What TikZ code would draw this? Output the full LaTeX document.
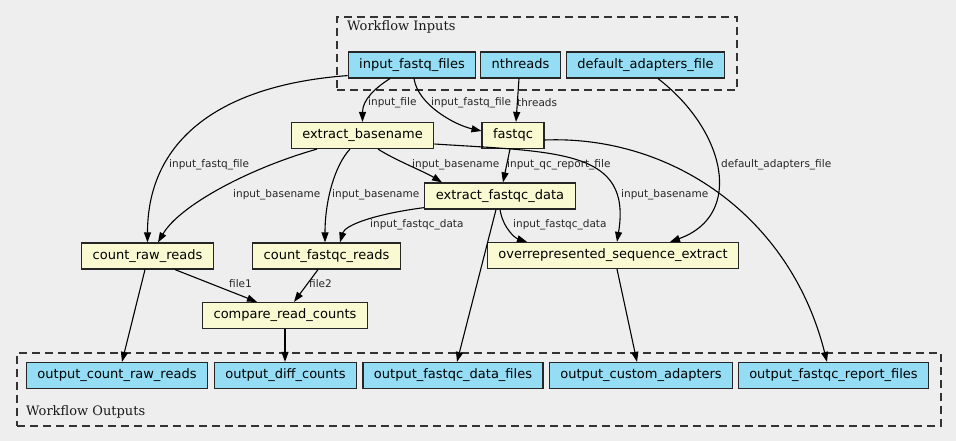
\documentclass[tikz,border=0pt]{standalone}
\usepackage{fontspec}
\setmainfont{DejaVu Serif}
\setsansfont{DejaVu Sans}
\usetikzlibrary{arrows.meta}
\definecolor{bg}{HTML}{EEEEEE}
\definecolor{iofill}{HTML}{94DDF4}
\definecolor{toolfill}{HTML}{FAFAD2}
\begin{document}
\begin{tikzpicture}[x=1pt,y=-1pt,
 box/.style={draw=black!85, line width=1.2pt, rectangle, minimum height=26pt, inner xsep=11pt, inner ysep=0pt, font=\sffamily\fontsize{13}{15}\selectfont, text height=9.5pt, text depth=3pt},
 io/.style={box, fill=iofill},
 tool/.style={box, fill=toolfill},
 lbl/.style={font=\sffamily\fontsize{10.5}{12}\selectfont, inner sep=0pt, anchor=west, text=black!85},
 cl/.style={draw=black!80, line width=1.6pt, dash pattern=on 8pt off 5pt, anchor=north west, inner sep=0pt},
 cltitle/.style={font=\rmfamily\fontsize{13}{15}\selectfont, inner sep=0pt, anchor=west, text=black!90},
 e/.style={draw=black, line width=1.1pt, -{Triangle[length=10pt,width=7pt]}}
]
\fill[bg] (0,0) rectangle (956,441);
\useasboundingbox (0,0) rectangle (956,441);

% clusters
\node[cl, minimum width=400pt, minimum height=73pt] (inputs) at (336,16) {};
\node[cltitle] (tin) at (347,27) {Workflow Inputs};
\node[cl, minimum width=924pt, minimum height=73pt] (outputs) at (16,352) {};
\node[cltitle] (tout) at (26,412) {Workflow Outputs};

% inputs
\node[io] (ifq) at (412,65) {input\_fastq\_files};
\node[io] (nt) at (520.5,65) {nthreads};
\node[io] (daf) at (645.5,65) {default\_adapters\_file};

% tools
\node[tool] (eb) at (362.5,135.5) {extract\_basename};
\node[tool] (fq) at (513,135.5) {fastqc};
\node[tool] (efd) at (500,196) {extract\_fastqc\_data};
\node[tool] (ose) at (613,255.5) {overrepresented\_sequence\_extract};
\node[tool] (crr) at (147.5,256) {count\_raw\_reads};
\node[tool] (cfr) at (326.5,256) {count\_fastqc\_reads};
\node[tool] (crc) at (285,315.5) {compare\_read\_counts};

% outputs
\node[io] (ocrr) at (117,375.5) {output\_count\_raw\_reads};
\node[io] (odc) at (285.5,375.5) {output\_diff\_counts};
\node[io] (ofdf) at (453,375.5) {output\_fastqc\_data\_files};
\node[io] (oca) at (641,375.5) {output\_custom\_adapters};
\node[io] (ofrf) at (833.5,375.5) {output\_fastqc\_report\_files};

% edges
\draw[e] ([xshift=-22pt]ifq.south) .. controls (375,88) and (362.5,100) .. (eb.north);
\draw[e] ([xshift=2pt]ifq.south) .. controls (418,105) and (455,125) .. ([yshift=4.5pt]fq.west);
\draw[e] ([xshift=-1.5pt]nt.south) -- ([xshift=3pt]fq.north);
\draw[e] ([yshift=3pt]ifq.south west) .. controls (220,85) and (147.5,140) .. (crr.north);
\draw[e] ([xshift=12.5pt]daf.south) .. controls (725,130) and (745,215) .. ([xshift=57pt]ose.north);
\draw[e] ([yshift=-4.5pt]fq.east) .. controls (670,135) and (790,215) .. ([xshift=-6.5pt]ofrf.north);
\draw[e] ([xshift=-3pt]fq.south) -- ([xshift=3pt]efd.north);
\draw[e] ([xshift=15.5pt]eb.south) .. controls (395,160) and (425,172) .. ([xshift=-58pt]efd.north);
\draw[e] ([yshift=-8.5pt]eb.east) .. controls (560,152) and (632,150) .. ([xshift=4pt]ose.north);
\draw[e] ([xshift=-45.5pt]eb.south) .. controls (250,168) and (180,205) .. ([xshift=10.5pt]crr.north);
\draw[e] ([xshift=-12.5pt]eb.south) .. controls (335,165) and (325,200) .. ([xshift=-1.5pt]cfr.north);
\draw[e] ([yshift=2pt]efd.south west) .. controls (375,214) and (345,225) .. ([xshift=13.5pt]cfr.north);
\draw[e] (efd.south) .. controls (503,228) and (515,238) .. ([xshift=-86pt]ose.north);
\draw[e] ([xshift=-4pt]efd.south) -- ([xshift=4pt]ofdf.north);
\draw[e] ([xshift=4pt]ose.south) -- ([xshift=-4pt]oca.north);
\draw[e] ([xshift=-2.5pt]crr.south) -- ([xshift=5pt]ocrr.north);
\draw[e] ([xshift=27.5pt]crr.south) -- ([xshift=-28pt]crc.north);
\draw[e] ([xshift=-8.5pt]cfr.south) -- ([xshift=9pt]crc.north);
\draw[e] (crc.south) -- (crc.south |- odc.north);

% edge labels
\node[lbl] (l1) at (368,103) {input\_file};
\node[lbl] (l2) at (431,103) {input\_fastq\_file};
\node[lbl] (l3) at (517,103) {threads};
\node[lbl] (l4) at (169,165) {input\_fastq\_file};
\node[lbl] (l5) at (721,165) {default\_adapters\_file};
\node[lbl] (l6) at (412,165) {input\_basename};
\node[lbl] (l7) at (507,165) {input\_qc\_report\_file};
\node[lbl] (l8) at (621,195) {input\_basename};
\node[lbl] (l9) at (233,195) {input\_basename};
\node[lbl] (l10) at (332,195) {input\_basename};
\node[lbl] (l11) at (370,225) {input\_fastqc\_data};
\node[lbl] (l12) at (513,225) {input\_fastqc\_data};
\node[lbl] (l13) at (229,284) {file1};
\node[lbl] (l14) at (309,284) {file2};
\end{tikzpicture}
\end{document}
